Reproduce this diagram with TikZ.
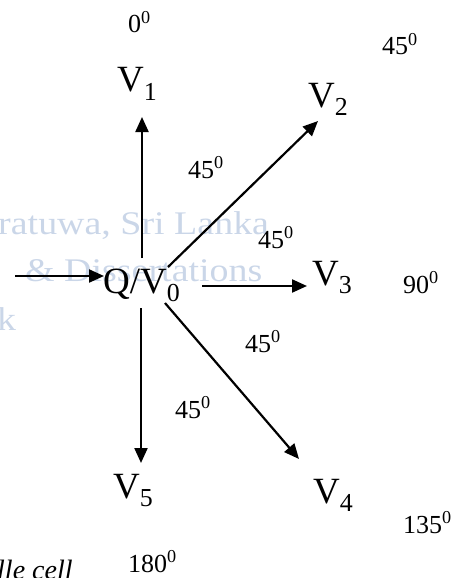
\documentclass[tikz,border=0pt]{standalone}
\usepackage{fontspec}
\setmainfont{Liberation Serif}
\usetikzlibrary{arrows.meta}
\definecolor{wm}{RGB}{202,214,232}
\begin{document}
\begin{tikzpicture}[x=1pt,y=1pt,
  big/.style={inner sep=0pt, anchor=base west, font=\fontsize{37}{40}\selectfont},
  ang/.style={inner sep=0pt, anchor=base west, font=\fontsize{26}{30}\selectfont},
  wmark/.style={inner sep=0pt, anchor=base west, text=wm, font=\fontsize{33}{36}\selectfont, xscale=1.15},
  arr/.style={line width=2.2pt, -{Triangle[length=15pt,width=13pt]}}]
\useasboundingbox (0,0) rectangle (456,-578);
\clip (0,0) rectangle (456,-578);
% watermark
\node[wmark] (w1) at (-2,-234) {ratuwa, Sri Lanka};
\node[wmark] (w2) at (25,-281) {\& Dissertations};
\node[wmark] (w3) at (-3,-330) {k};
% main labels
\node[big] (Q) at (103,-293) {Q/V\textsubscript{0}};
\node[big] (V1) at (117,-92) {V\textsubscript{1}};
\node[big] (V2) at (308,-107) {V\textsubscript{2}};
\node[big] (V3) at (312,-285) {V\textsubscript{3}};
\node[big] (V4) at (313,-503) {V\textsubscript{4}};
\node[big] (V5) at (113,-498) {V\textsubscript{5}};
% angle labels
\node[ang] (a0) at (128,-33) {0\textsuperscript{0}};
\node[ang] (a45) at (382,-55) {45\textsuperscript{0}};
\node[ang] (a90) at (403,-293) {90\textsuperscript{0}};
\node[ang] (a135) at (403,-533) {135\textsuperscript{0}};
\node[ang] (a180) at (128,-572) {180\textsuperscript{0}};
\node[ang] (b1) at (188,-178) {45\textsuperscript{0}};
\node[ang] (b2) at (258,-248) {45\textsuperscript{0}};
\node[ang] (b3) at (245,-352) {45\textsuperscript{0}};
\node[ang] (b4) at (175,-418) {45\textsuperscript{0}};
\node[inner sep=0pt, anchor=base west, font=\fontsize{28}{32}\selectfont\itshape] (cap) at (-3,-579) {lle cell};
% connector end points
\coordinate (in) at (15,-276);
\coordinate (inE) at (104,-276);
\coordinate (s1) at (142,-258);
\coordinate (t1) at (142,-117);
\coordinate (s2) at (168,-267);
\coordinate (t2) at (318,-121);
\coordinate (s3) at (202,-286);
\coordinate (t3) at (307,-286);
\coordinate (s4) at (165,-303);
\coordinate (t4) at (299,-459);
\coordinate (s5) at (141,-308);
\coordinate (t5) at (141,-463);
% arrows
\draw[arr] (in) -- (inE);
\draw[arr] (s1) -- (t1);
\draw[arr] (s2) -- (t2);
\draw[arr] (s3) -- (t3);
\draw[arr] (s4) -- (t4);
\draw[arr] (s5) -- (t5);
\end{tikzpicture}
\end{document}
